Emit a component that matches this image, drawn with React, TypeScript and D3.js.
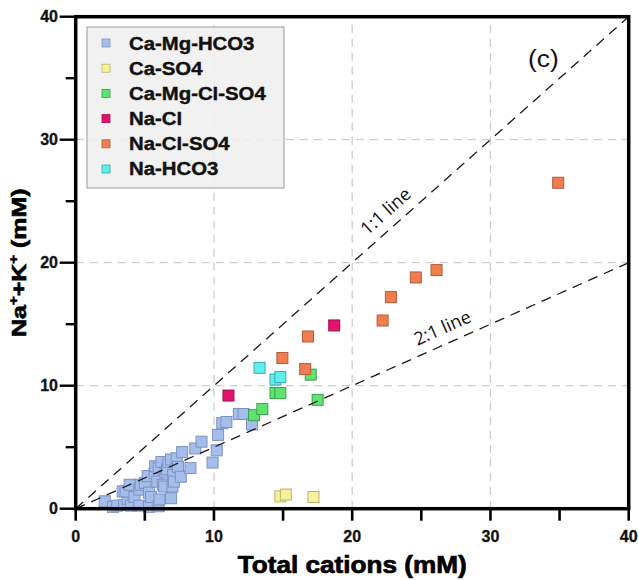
import React from "react";
import * as d3 from "d3";

// Total cations (mM) vs Na+ + K+ (mM), grouped by water type
const caMgHco3: [number, number][] = [
  [2.1, 0.6], [2.7, 0.15], [3.0, 0.25], [3.5, 0.3], [3.75, 0.8], [3.4, 1.4],
  [3.6, 1.4], [3.9, 1.95], [4.0, 0.25], [4.25, 0.95], [4.6, 0.25], [4.6, 1.55],
  [4.7, 1.95], [5.0, 2.1], [5.3, 0.15], [5.3, 1.3], [5.45, 0.95], [5.2, 2.65],
  [5.7, 2.9], [5.75, 3.45], [5.9, 2.2], [6.0, 0.2], [6.05, 0.75], [6.0, 3.3],
  [6.2, 3.8], [6.3, 1.95], [6.4, 1.8], [6.5, 2.95], [6.6, 3.2], [6.7, 3.8],
  [6.9, 0.85], [6.9, 4.0], [7.0, 1.8], [7.05, 2.75], [7.1, 2.2], [7.3, 4.1],
  [7.4, 3.4], [7.6, 2.6], [7.7, 4.6], [8.3, 3.3], [8.65, 4.9], [9.1, 5.45],
  [9.9, 3.75], [10.2, 4.75], [10.3, 6.0], [10.6, 6.95], [10.9, 7.05],
  [11.8, 7.7], [12.15, 7.7], [12.75, 6.85],
];
const caSo4: [number, number][] = [[14.8, 1.0], [15.2, 1.15], [17.2, 0.95]];
const caMgClSo4: [number, number][] = [
  [12.9, 7.6], [13.5, 8.1], [14.45, 9.4], [14.8, 9.4], [17.0, 10.9], [17.5, 8.85],
];
const naCl: [number, number][] = [[11.05, 9.2], [18.7, 14.9]];
const naClSo4: [number, number][] = [
  [14.95, 12.25], [16.6, 11.35], [16.8, 14.0], [22.2, 15.3], [22.8, 17.2],
  [24.6, 18.8], [26.1, 19.4], [34.9, 26.5],
];
const naHco3: [number, number][] = [[13.3, 11.45], [14.45, 10.5], [14.8, 10.7]];

const seriesNames = ["Ca-Mg-HCO3", "Ca-SO4", "Ca-Mg-Cl-SO4", "Na-Cl", "Na-Cl-SO4", "Na-HCO3"];
const seriesData = [caMgHco3, caSo4, caMgClSo4, naCl, naClSo4, naHco3];

const xTicks = [0, 10, 20, 30, 40];
const yTicks = [0, 10, 20, 30, 40];
const minorTicks = [5, 15, 25, 35];
const gridValues = [10, 20, 30];

const fills = ["#a5bdea", "#f6f29a", "#5de46e", "#e3126c", "#f07d4f", "#5ef0ee"];
const strokes = ["#7d92bf", "#b8b36b", "#3c9f4b", "#a30d4e", "#b35b3a", "#3aa9a9"];

const W = 639;
const H = 580;
const x = d3.scaleLinear().domain([0, 40]).range([75.7, 628.7]);
const y = d3.scaleLinear().domain([0, 40]).range([508.7, 16.7]);

const boldFont = "'Liberation Sans', Arial, sans-serif";

function RefLine({ slope, label, at }: { slope: number; label: string; at: number }) {
  const line = d3
    .line<number>()
    .x((d) => x(d))
    .y((d) => y(d * slope));
  const px = x(at);
  const py = y(at * slope);
  const ang = (Math.atan2(y(40 * slope) - y(0), x(40) - x(0)) * 180) / Math.PI;
  return (
    <g>
      <path d={line([0, 40]) || ""} fill="none" stroke="#1a1a1a" strokeWidth={1.3} strokeDasharray="10,7" />
      <text
        transform={`translate(${px},${py}) rotate(${ang}) translate(0,-10)`}
        textAnchor="middle"
        fontFamily="'Open Sans', sans-serif"
        fontSize={18}
        fill="#111"
      >
        {label}
      </text>
    </g>
  );
}

export default function App() {
  const ms = 11;
  return (
    <div style={{ position: "absolute", left: 0, top: 0 }}>
      <svg width={W} height={H} style={{ display: "block", background: "#fff" }}>
        {/* grid */}
        {gridValues.map((v) => (
          <g key={"g" + v}>
            <line x1={x(v)} x2={x(v)} y1={y(0)} y2={y(40)} stroke="#cdcdcd" strokeWidth={1.3} strokeDasharray="8,6" />
            <line x1={x(0)} x2={x(40)} y1={y(v)} y2={y(v)} stroke="#cdcdcd" strokeWidth={1.3} strokeDasharray="8,6" />
          </g>
        ))}

        {/* legend */}
        <rect x={87} y={27} width={197} height={161} fill="#eeeeee" fillOpacity={0.85} stroke="#9a9a9a" strokeWidth={1} />
        {seriesNames.map((name, i) => (
          <g key={name}>
            <rect x={102} y={39 + 25.2 * i} width={8} height={8} fill={fills[i]} stroke={strokes[i]} strokeWidth={0.8} />
            <text
              transform={`translate(129,${50 + 25 * i}) scale(1.1,1)`}
              fontFamily={boldFont}
              fontWeight={700}
              fontSize={18.5}
              fill="#111"
              stroke="#111"
              strokeWidth={0.4}
            >
              {name}
            </text>
          </g>
        ))}

        {/* data points */}
        {seriesData.map((pts, i) =>
          pts.map(([vx, vy], j) => (
            <rect
              key={i + "-" + j}
              x={x(vx) - ms / 2}
              y={y(vy) - ms / 2}
              width={ms}
              height={ms}
              fill={fills[i]}
              stroke={strokes[i]}
              strokeWidth={1}
            />
          ))
        )}

        {/* reference lines */}
        <RefLine slope={1} label="1:1 line" at={23.2} />
        <RefLine slope={0.5} label="2:1 line" at={27} />

        {/* frame */}
        <rect x={x(0)} y={y(40)} width={x(40) - x(0)} height={y(0) - y(40)} fill="none" stroke="#000" strokeWidth={3.5} />

        {/* x ticks */}
        {xTicks.concat(minorTicks).map((v) => (
          <line key={"xt" + v} x1={x(v)} x2={x(v)} y1={y(0)} y2={y(0) + 12} stroke="#000" strokeWidth={2.6} />
        ))}
        {xTicks.map((v) => (
          <text key={"xl" + v} x={x(v)} y={542} textAnchor="middle" fontFamily={boldFont} fontWeight={700} fontSize={16} fill="#111" stroke="#111" strokeWidth={0.3}>
            {v}
          </text>
        ))}

        {/* y ticks */}
        {yTicks.map((v) => (
          <line key={"yt" + v} x1={x(0) - 16} x2={x(0)} y1={y(v)} y2={y(v)} stroke="#000" strokeWidth={2.4} />
        ))}
        {minorTicks.map((v) => (
          <line key={"ym" + v} x1={x(0) - 10} x2={x(0)} y1={y(v)} y2={y(v)} stroke="#000" strokeWidth={2.4} />
        ))}
        {yTicks.map((v) => (
          <text key={"yl" + v} x={58} y={y(v) + 5.7} textAnchor="end" fontFamily={boldFont} fontWeight={700} fontSize={16} fill="#111" stroke="#111" strokeWidth={0.3}>
            {v}
          </text>
        ))}

        {/* panel tag */}
        <text transform="translate(528,67) scale(1.1,1)" fontFamily={boldFont} fontSize={24} fill="#111">
          (c)
        </text>

        {/* axis titles */}
        <text
          transform={`translate(${(x(0) + x(40)) / 2},573) scale(1.09,1)`}
          textAnchor="middle"
          fontFamily={boldFont}
          fontWeight={700}
          fontSize={24}
          fill="#000"
          stroke="#000"
          strokeWidth={0.7}
        >
          Total cations (mM)
        </text>
        <text
          transform={`translate(26,${(y(0) + y(40)) / 2}) rotate(-90) scale(1.25,1)`}
          textAnchor="middle"
          fontFamily={boldFont}
          fontWeight={700}
          fontSize={20}
          fill="#000"
          stroke="#000"
          strokeWidth={0.6}
        >
          Na
          <tspan fontSize={12} dy={-8}>+</tspan>
          <tspan dy={8}>+K</tspan>
          <tspan fontSize={12} dy={-8}>+</tspan>
          <tspan dy={8}> (mM)</tspan>
        </text>
      </svg>
    </div>
  );
}
